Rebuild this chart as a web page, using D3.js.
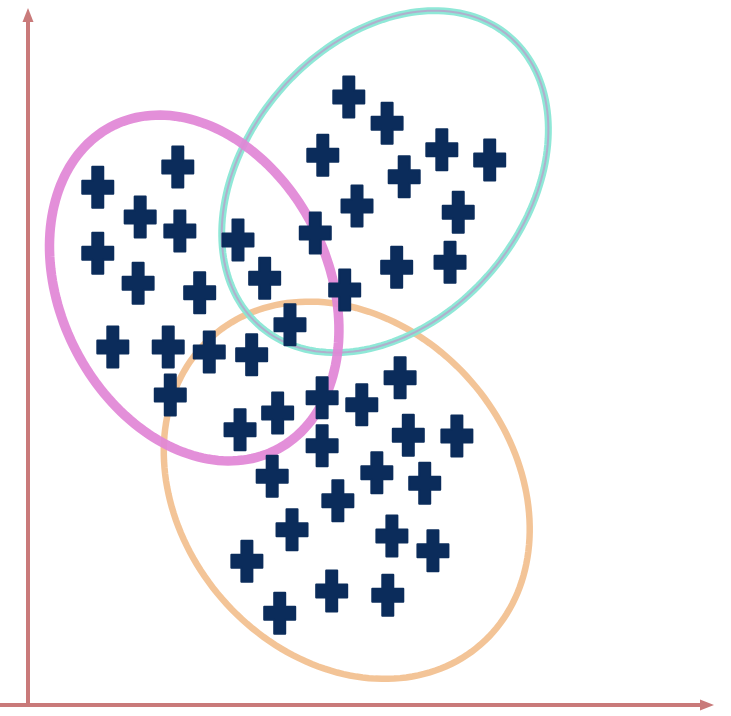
<!DOCTYPE html>
<html>
<head>
<meta charset="utf-8">
<script src="https://cdn.jsdelivr.net/npm/d3@7"></script>
<style>
  html, body { margin: 0; padding: 0; background: #ffffff; }
  svg { display: block; }
</style>
</head>
<body>
<svg id="chart" width="731" height="716"></svg>
<script>
// Observations, in axis units (0–100 on both axes), grouped by cluster
const tealPoints = [
  [46.9, 87.5], [52.5, 83.7], [43.1, 79.1], [60.5, 79.9], [67.5, 78.4],
  [55.0, 76.0], [48.1, 71.8], [62.9, 70.9], [42.0, 67.9], [53.9, 63.0],
  [61.7, 63.7], [46.3, 59.7]
];
const magentaPoints = [
  [10.2, 74.5], [21.9, 77.4], [16.4, 70.2], [22.2, 68.2], [10.2, 65.0],
  [30.7, 66.9], [16.1, 60.7], [25.1, 59.3], [34.6, 61.4], [38.3, 54.7],
  [12.4, 51.5], [20.5, 51.5], [26.5, 50.8], [32.7, 50.4], [20.8, 44.6]
];
const orangePoints = [
  [54.4, 47.1], [43.0, 44.2], [48.8, 43.2], [36.5, 42.0], [31.0, 39.6],
  [55.6, 38.8], [62.7, 38.7], [43.0, 37.3], [35.7, 32.9], [51.0, 33.4],
  [58.0, 31.9], [45.3, 29.4], [38.6, 25.2], [53.2, 24.3], [59.2, 22.2],
  [32.0, 20.7], [44.4, 16.4], [52.6, 15.8], [36.8, 13.2]
];

// Cluster outlines: centre, semi-axes and tilt (degrees) in axis units
const clusterNames   = ["orange", "teal", "magenta"];
const clusterCenters = [[46.6, 30.9], [52.2, 75.3], [24.3, 60.0]];
const clusterAxes    = [[29.6, 24.0], [27.7, 20.2], [26.2, 19.5]];
const clusterAngles  = [-47, 47.8, -62];

// Styling
const markerColor = "#0b2c5b";
const axisColor = "#c97a7a";
const outlineStyle = {
  orange:  [{ color: "#f2bf8e", width: 6.5 }],
  teal:    [{ color: "#86e6d4", width: 7 }, { color: "#b3a9cc", width: 2 }],
  magenta: [{ color: "#e185d6", width: 9.5 }]
};

const svg = d3.select("#chart");
const x = d3.scaleLinear().domain([0, 100]).range([28, 712]);
const y = d3.scaleLinear().domain([0, 100]).range([705, 10]);

// Arrowheads for the axes
const defs = svg.append("defs");
defs.append("marker")
  .attr("id", "arrow")
  .attr("markerUnits", "userSpaceOnUse")
  .attr("viewBox", "0 -6 14 12")
  .attr("refX", 4).attr("refY", 0)
  .attr("markerWidth", 14).attr("markerHeight", 12)
  .attr("orient", "auto")
  .append("path")
  .attr("d", "M0,-5.5L14,0L0,5.5Z")
  .attr("fill", axisColor);

// Axes: bare lines without ticks
const xAxis = svg.append("g")
  .attr("transform", `translate(0,${y(0)})`)
  .call(d3.axisBottom(x).ticks(0).tickSizeOuter(0));
const yAxis = svg.append("g")
  .attr("transform", `translate(${x(0)},0)`)
  .call(d3.axisLeft(y).ticks(0).tickSizeOuter(0));
[xAxis, yAxis].forEach(g => {
  g.select(".domain")
    .attr("stroke", axisColor)
    .attr("stroke-width", 4)
    .attr("marker-end", "url(#arrow)");
});
// Draw the y domain bottom-to-top so the arrow sits at the top
yAxis.select(".domain").attr("d", `M0,${y(0) + 2}V${y(100) + 8}`);
xAxis.select(".domain").attr("d", `M-2,0H${x(100) - 8}`);

// Cluster ellipses, traced in axis units and mapped through the scales
const line = d3.line()
  .x(d => x(d[0]))
  .y(d => y(d[1]))
  .curve(d3.curveLinearClosed);

function ellipsePoints(c, ax, angleDeg) {
  const a = angleDeg * Math.PI / 180;
  const ca = Math.cos(a), sa = Math.sin(a);
  return d3.range(0, 360, 2).map(t => {
    const r = t * Math.PI / 180;
    const ex = ax[0] * Math.cos(r), ey = ax[1] * Math.sin(r);
    return [c[0] + ex * ca - ey * sa, c[1] + ex * sa + ey * ca];
  });
}

const outlines = svg.append("g").attr("fill", "none");
clusterNames.forEach((name, i) => {
  const pts = ellipsePoints(clusterCenters[i], clusterAxes[i], clusterAngles[i]);
  outlineStyle[name].forEach(s => {
    outlines.append("path")
      .attr("d", line(pts))
      .attr("stroke", s.color)
      .attr("stroke-width", s.width)
      .attr("stroke-opacity", 0.92);
  });
});

// Plus-shaped markers
const pw = 31, ph = 41, vw = 11, hh = 13;
const plus = `M${-vw/2},${-ph/2}H${vw/2}V${-hh/2}H${pw/2}V${hh/2}H${vw/2}V${ph/2}` +
             `H${-vw/2}V${hh/2}H${-pw/2}V${-hh/2}H${-vw/2}Z`;

const allPoints = [...tealPoints, ...magentaPoints, ...orangePoints];
svg.append("g")
  .selectAll("path")
  .data(allPoints)
  .join("path")
  .attr("transform", d => `translate(${x(d[0])},${y(d[1])})`)
  .attr("d", plus)
  .attr("fill", markerColor)
  .attr("stroke", markerColor)
  .attr("stroke-width", 2)
  .attr("stroke-linejoin", "round");
</script>
</body>
</html>
